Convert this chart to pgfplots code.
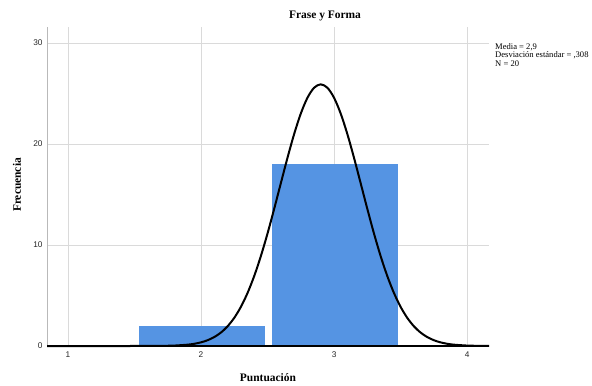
\documentclass[border=0pt]{standalone}
\usepackage{fontspec}
\setmainfont{Liberation Serif}
\newfontfamily\sansf{Liberation Sans}
\usepackage{pgfplots}
\pgfplotsset{compat=1.18}
\definecolor{barblue}{RGB}{85,148,227}
\definecolor{gridgray}{RGB}{218,218,218}
\definecolor{axgray}{RGB}{185,185,185}
\begin{document}
\begin{tikzpicture}[x=1bp,y=1bp]
\useasboundingbox (0,0) rectangle (592,385);
\begin{axis}[
  at={(47bp,39bp)}, anchor=south west,
  scale only axis, width=442bp, height=319bp,
  xmin=0.842, xmax=4.165, ymin=0, ymax=31.58,
  xtick={1,2,3,4}, ytick={0,10,20,30},
  major tick length=0pt,
  grid=major, major grid style={gridgray, line width=0.8bp},
  axis x line*=bottom, axis y line*=left,
  x axis line style={draw=none},
  y axis line style={axgray, line width=0.8bp},
  tick label style={font=\sansf\fontsize{8.3}{9}\selectfont, text=black!85},
  /pgf/number format/assume math mode=true,
  xticklabel style={yshift=-2bp},
  yticklabel style={xshift=-1bp},
  clip=false,
]
\addplot[fill=barblue, draw=none] coordinates {(1.534,0) (1.534,2) (2.481,2) (2.481,0)} -- cycle;
\addplot[fill=barblue, draw=none] coordinates {(2.534,0) (2.534,18) (3.481,18) (3.481,0)} -- cycle;
\addplot[black, line width=1.3bp] coordinates {(0.842,0) (4.165,0)};
\addplot[black, line width=2bp, smooth, line join=round] coordinates {
(0.842,0) (1.4,0) (1.6,0.0035) (1.7,0.0131) (1.8,0.0440) (1.9,0.1331) (1.95,0.2226)
(2.0,0.362) (2.05,0.575) (2.1,0.888) (2.15,1.336) (2.2,1.958) (2.25,2.794) (2.3,3.884)
(2.35,5.259) (2.4,6.936) (2.45,8.910) (2.5,11.146) (2.55,13.583) (2.6,16.120) (2.65,18.634)
(2.7,20.981) (2.75,23.008) (2.8,24.575) (2.85,25.566) (2.9,25.905) (2.95,25.566) (3.0,24.575)
(3.05,23.008) (3.1,20.981) (3.15,18.634) (3.2,16.120) (3.25,13.583) (3.3,11.146) (3.35,8.910)
(3.4,6.936) (3.45,5.259) (3.5,3.884) (3.55,2.794) (3.6,1.958) (3.65,1.336) (3.7,0.888)
(3.75,0.575) (3.8,0.362) (3.85,0.2226) (3.9,0.1331) (4.0,0.0440) (4.1,0.0131) (4.165,0.005)};
\end{axis}
\node[font=\bfseries\fontsize{11.5}{13}\selectfont] at (325,369) {Frase y Forma};
\node[font=\bfseries\fontsize{11.5}{13}\selectfont, rotate=90] at (17,200) {Frecuencia};
\node[font=\bfseries\fontsize{11.5}{13}\selectfont] at (268,7) {Puntuación};
\node[anchor=north west, inner sep=0pt, align=left, font=\fontsize{8.6}{8.8}\selectfont] at (495,342) {Media = 2,9\\Desviación estándar = ,308\\N = 20};
\end{tikzpicture}
\end{document}
